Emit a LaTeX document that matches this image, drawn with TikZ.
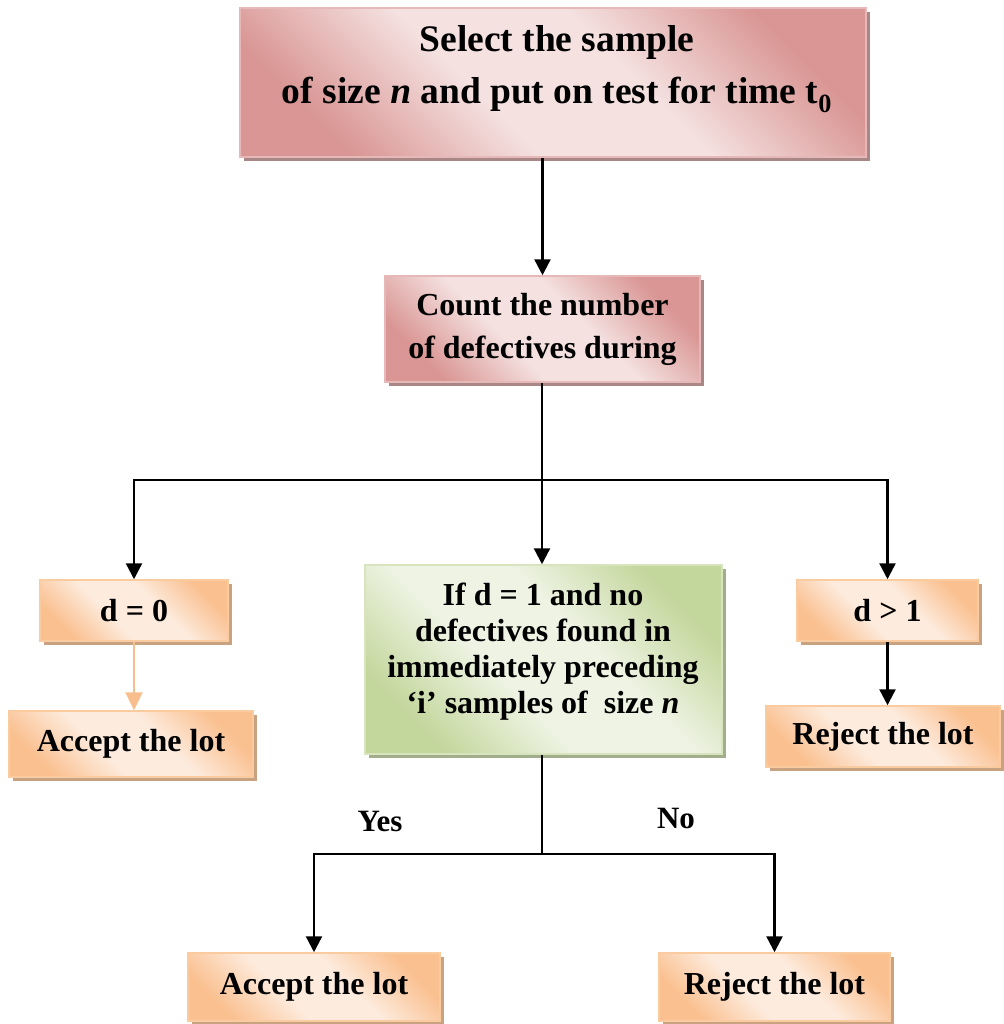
\documentclass[tikz,border=0pt]{standalone}
\usepackage{fontspec}
\setmainfont{Liberation Serif}
\usetikzlibrary{arrows.meta,shadows}
\definecolor{pinkD}{HTML}{D99694}
\definecolor{pinkL}{HTML}{F4E1E0}
\definecolor{pinkB}{HTML}{E6B9B8}
\definecolor{pinkS}{HTML}{A88786}
\definecolor{orD}{HTML}{FAC090}
\definecolor{orL}{HTML}{FDEBDD}
\definecolor{orB}{HTML}{FBCBA0}
\definecolor{orS}{HTML}{C9A281}
\definecolor{orA}{HTML}{F9BE8E}
\definecolor{grD}{HTML}{C3D69B}
\definecolor{grL}{HTML}{EEF3E3}
\definecolor{grB}{HTML}{D7E4BD}
\definecolor{grS}{HTML}{A2AD8C}
\pgfdeclareverticalshading{pinksh}{100bp}{color(0bp)=(pinkD); color(25bp)=(pinkD); color(42bp)=(pinkL); color(58bp)=(pinkL); color(75bp)=(pinkD); color(100bp)=(pinkD)}
\pgfdeclareverticalshading{orsh}{100bp}{color(0bp)=(orD); color(25bp)=(orD); color(42bp)=(orL); color(58bp)=(orL); color(75bp)=(orD); color(100bp)=(orD)}
\pgfdeclareverticalshading{grsh}{100bp}{color(0bp)=(grD); color(25bp)=(grD); color(42bp)=(grL); color(58bp)=(grL); color(75bp)=(grD); color(100bp)=(grD)}
\begin{document}
\begin{tikzpicture}[x=1pt,y=-1pt,
  box/.style={rectangle, inner sep=0pt, line width=1.5pt, align=center,
    font=\bfseries\fontsize{32}{43}\selectfont},
  pinkbox/.style={box, draw=pinkB, shade, shading=pinksh, shading angle=-45,
    drop shadow={shadow xshift=4pt, shadow yshift=-4pt, fill=pinkS, opacity=1}},
  orbox/.style={box, draw=orB, shade, shading=orsh, shading angle=-45,
    drop shadow={shadow xshift=4pt, shadow yshift=-4pt, fill=orS, opacity=1}},
  grbox/.style={box, draw=grB, shade, shading=grsh, shading angle=-45,
    drop shadow={shadow xshift=4pt, shadow yshift=-4pt, fill=grS, opacity=1}},
  txt/.style={align=center, inner sep=0pt},
  lbl/.style={inner sep=0pt, font=\bfseries\fontsize{31}{36}\selectfont},
  ln/.style={line width=2.4pt, black},
  arr/.style={ln, -{Triangle[width=16pt,length=16pt]}},
  oarr/.style={line width=2.4pt, orA, -{Triangle[width=17pt,length=18pt]}}
]
\useasboundingbox (0,0) rectangle (1003,1024);

% boxes
\node[pinkbox, minimum width=626pt, minimum height=149pt] (top) at (553,82.5) {};
\node[txt, font=\bfseries\fontsize{37.5}{52}\selectfont] (toptxt) at (557,69)
  {Select the sample\\ of size \textit{n} and put on test for time t\textsubscript{0}};

\node[pinkbox, minimum width=315pt, minimum height=106pt] (count) at (542.5,329)
  {Count the number\\of defectives during};

\node[orbox, minimum width=188pt, minimum height=61pt] (d0) at (134,610.5) {d = 0};
\node[orbox, minimum width=244pt, minimum height=66pt] (acc1) at (131,744) {Accept the lot};

\node[grbox, minimum width=357pt, minimum height=189pt] (green) at (543.5,659.5) {};
\node[txt, font=\bfseries\fontsize{32}{36}\selectfont] (greentxt) at (543,652)
  {If d = 1 and no\\defectives found in\\immediately preceding\\‘i’ samples of\ \ size \textit{n}};

\node[orbox, minimum width=181pt, minimum height=61pt] (d1) at (887.5,610.5) {d > 1};
\node[orbox, minimum width=234pt, minimum height=61pt] (rej1) at (883,736.5) {Reject the lot};

\node[orbox, minimum width=252pt, minimum height=68pt] (acc2) at (314,987) {Accept the lot};
\node[orbox, minimum width=231pt, minimum height=68pt] (rej2) at (774.5,987) {Reject the lot};

\node[lbl] (yes) at (380,821) {Yes};
\node[lbl] (no) at (676,818) {No};

% connectors
\coordinate (j1) at (542,480);
\coordinate (j2) at (542,854);
\draw[arr] (top.south -| count.north) -- (count.north);
\draw[ln] (count.south -| j1) -- (j1);
\draw[arr] (j1) -| (d0.north);
\draw[arr] (j1) -- (j1 |- green.north);
\draw[arr] (j1) -| (d1.north);
\draw[oarr] (d0.south) -- (d0.south |- acc1.north);
\draw[arr] (d1.south) -- (d1.south |- rej1.north);
\draw[ln] (green.south -| j2) -- (j2);
\draw[arr] (j2) -| (acc2.north);
\draw[arr] (j2) -| (rej2.north);
\end{tikzpicture}
\end{document}
